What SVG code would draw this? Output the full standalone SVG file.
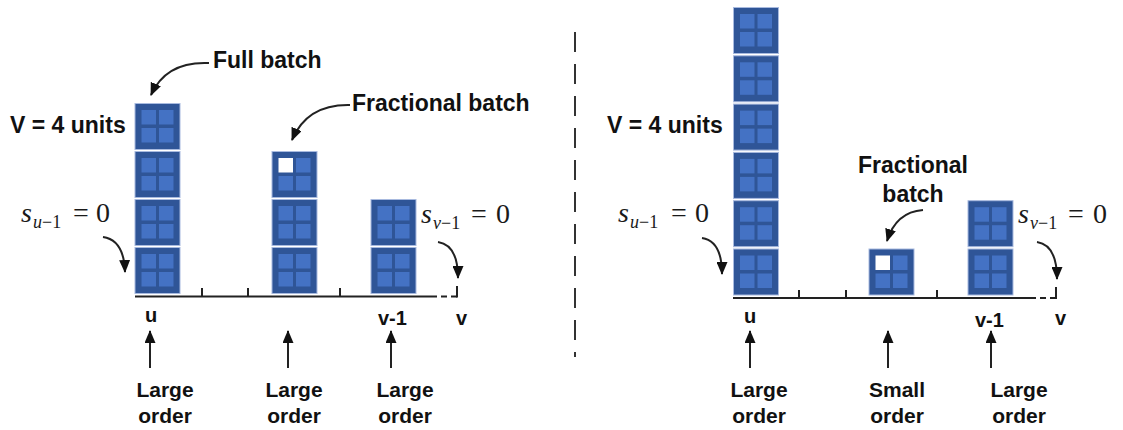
<svg xmlns="http://www.w3.org/2000/svg" xmlns:xlink="http://www.w3.org/1999/xlink" width="1123" height="430" viewBox="0 0 1123 430">
<style>
.lbl{font-family:"Liberation Sans",Arial,sans-serif;font-weight:bold;fill:#111;}
.big{font-size:23px;}
.ord{font-size:21px;text-anchor:middle;}
.pos{font-size:20px;}
.math{font-family:"Liberation Serif","Times New Roman",serif;font-size:28px;fill:#1a1a1a;}
.sub{font-size:18px;}
.it{font-style:italic;}
.ax{stroke:#222;stroke-width:2;fill:none;}
.dash{stroke:#222;stroke-width:2;fill:none;stroke-dasharray:6 4;}
.conn{stroke:#222;stroke-width:2;fill:none;marker-end:url(#ah);}
.sep{stroke:#333;stroke-width:2;fill:none;stroke-dasharray:20 12;}
</style>
<defs>
<marker id="ah" markerUnits="userSpaceOnUse" markerWidth="13" markerHeight="11" refX="12" refY="5.5" orient="auto">
<path d="M0,0 L13,5.5 L0,11 z" fill="#111"/>
</marker>
<g id="blk">
<rect x="0" y="0" width="45" height="46" fill="#2F5597" stroke="#A8BADF" stroke-width="1"/>
<rect x="6.5" y="6.5" width="14.5" height="14.5" fill="#4472C4"/>
<rect x="24" y="6.5" width="14.5" height="14.5" fill="#4472C4"/>
<rect x="6.5" y="24.5" width="14.5" height="14.5" fill="#4472C4"/>
<rect x="24" y="24.5" width="14.5" height="14.5" fill="#4472C4"/>
</g>
<g id="frac">
<rect x="0" y="0" width="45" height="46" fill="#2F5597" stroke="#A8BADF" stroke-width="1"/>
<rect x="6.5" y="6.5" width="14.5" height="14.5" fill="#FFFFFF"/>
<rect x="24" y="6.5" width="14.5" height="14.5" fill="#4472C4"/>
<rect x="6.5" y="24.5" width="14.5" height="14.5" fill="#4472C4"/>
<rect x="24" y="24.5" width="14.5" height="14.5" fill="#4472C4"/>
</g>
</defs>
<rect width="1123" height="430" fill="#FFFFFF"/>

<!-- separator -->
<line class="sep" x1="575" y1="32" x2="575" y2="357"/>

<!-- LEFT PANEL -->
<g id="left-axis">
<line class="ax" x1="135" y1="296.5" x2="431" y2="296.5"/>
<line class="dash" x1="431" y1="296.5" x2="457" y2="296.5"/>
<line class="ax" x1="457" y1="286" x2="457" y2="297.5"/>
<line class="ax" x1="202" y1="288" x2="202" y2="296"/>
<line class="ax" x1="248" y1="288" x2="248" y2="296"/>
<line class="ax" x1="340" y1="288" x2="340" y2="296"/>
</g>
<g id="left-stack-u">
<use xlink:href="#blk" x="135" y="103.5"/>
<use xlink:href="#blk" x="135" y="151.5"/>
<use xlink:href="#blk" x="135" y="199.5"/>
<use xlink:href="#blk" x="135" y="247.5"/>
</g>
<g id="left-stack-mid">
<use xlink:href="#frac" x="272" y="151.5"/>
<use xlink:href="#blk" x="272" y="199.5"/>
<use xlink:href="#blk" x="272" y="247.5"/>
</g>
<g id="left-stack-v1">
<use xlink:href="#blk" x="371" y="199.5"/>
<use xlink:href="#blk" x="371" y="247.5"/>
</g>
<g id="left-labels">
<text class="lbl big" x="213" y="68">Full batch</text>
<text class="lbl big" x="352" y="111">Fractional batch</text>
<text class="lbl big" x="10" y="133">V = 4 units</text>
<text class="math" x="21" y="222"><tspan class="it">s</tspan><tspan class="sub it" x="33" dy="6">u</tspan><tspan class="sub">−1</tspan><tspan x="73" dy="-6">=</tspan><tspan x="96">0</tspan></text>
<text class="math" x="421" y="223"><tspan class="it">s</tspan><tspan class="sub it" x="433" dy="6">v</tspan><tspan class="sub">−1</tspan><tspan x="471" dy="-6">=</tspan><tspan x="496">0</tspan></text>
<text class="lbl pos" x="145" y="322">u</text>
<text class="lbl pos" x="378" y="325">v-1</text>
<text class="lbl pos" x="456" y="325">v</text>
<text class="lbl ord" x="165" y="397">Large</text>
<text class="lbl ord" x="165" y="423">order</text>
<text class="lbl ord" x="294" y="397">Large</text>
<text class="lbl ord" x="294" y="423">order</text>
<text class="lbl ord" x="405" y="397">Large</text>
<text class="lbl ord" x="405" y="423">order</text>
</g>

<!-- RIGHT PANEL -->
<g id="right-axis">
<line class="ax" x1="733" y1="298" x2="1030" y2="298"/>
<line class="dash" x1="1030" y1="298" x2="1056" y2="298"/>
<line class="ax" x1="1056" y1="287" x2="1056" y2="299"/>
<line class="ax" x1="799" y1="290" x2="799" y2="298"/>
<line class="ax" x1="846" y1="290" x2="846" y2="298"/>
<line class="ax" x1="937" y1="290" x2="937" y2="298"/>
</g>
<g id="right-stack-u">
<use xlink:href="#blk" x="733.5" y="7.5"/>
<use xlink:href="#blk" x="733.5" y="55.8"/>
<use xlink:href="#blk" x="733.5" y="104.1"/>
<use xlink:href="#blk" x="733.5" y="152.4"/>
<use xlink:href="#blk" x="733.5" y="200.7"/>
<use xlink:href="#blk" x="733.5" y="249"/>
</g>
<g id="right-stack-mid">
<use xlink:href="#frac" x="869" y="249"/>
</g>
<g id="right-stack-v1">
<use xlink:href="#blk" x="968" y="200.7"/>
<use xlink:href="#blk" x="968" y="249"/>
</g>
<g id="right-labels">
<text class="lbl big" x="607" y="133">V = 4 units</text>
<text class="lbl big" x="913" y="173" text-anchor="middle">Fractional</text>
<text class="lbl big" x="913" y="202" text-anchor="middle">batch</text>
<text class="math" x="618" y="222"><tspan class="it">s</tspan><tspan class="sub it" x="630" dy="6">u</tspan><tspan class="sub">−1</tspan><tspan x="671" dy="-6">=</tspan><tspan x="695">0</tspan></text>
<text class="math" x="1018" y="223"><tspan class="it">s</tspan><tspan class="sub it" x="1030" dy="6">v</tspan><tspan class="sub">−1</tspan><tspan x="1068" dy="-6">=</tspan><tspan x="1093">0</tspan></text>
<text class="lbl pos" x="744" y="323">u</text>
<text class="lbl pos" x="975" y="327">v-1</text>
<text class="lbl pos" x="1055" y="325">v</text>
<text class="lbl ord" x="759" y="397">Large</text>
<text class="lbl ord" x="759" y="423">order</text>
<text class="lbl ord" x="897" y="397">Small</text>
<text class="lbl ord" x="897" y="423">order</text>
<text class="lbl ord" x="1019" y="397">Large</text>
<text class="lbl ord" x="1019" y="423">order</text>
</g>

<!-- CONNECTORS -->
<g id="connectors">
<path class="conn" d="M209,63 Q166,61 151,95"/>
<path class="conn" d="M350,105 Q307,104 292,140"/>
<path class="conn" d="M103,237 Q124,240 125,272"/>
<path class="conn" d="M438,242 Q458,245 458,278"/>
<path class="conn" d="M923,210 Q896,212 887,241"/>
<path class="conn" d="M702,238 Q722,241 722,274"/>
<path class="conn" d="M1037,242 Q1057,245 1057,279"/>
<line class="conn" x1="150" y1="368" x2="150" y2="331"/>
<line class="conn" x1="288" y1="368" x2="288" y2="331"/>
<line class="conn" x1="391" y1="368" x2="391" y2="331"/>
<line class="conn" x1="750" y1="368" x2="750" y2="331"/>
<line class="conn" x1="888" y1="368" x2="888" y2="331"/>
<line class="conn" x1="991" y1="368" x2="991" y2="331"/>
</g>
</svg>
